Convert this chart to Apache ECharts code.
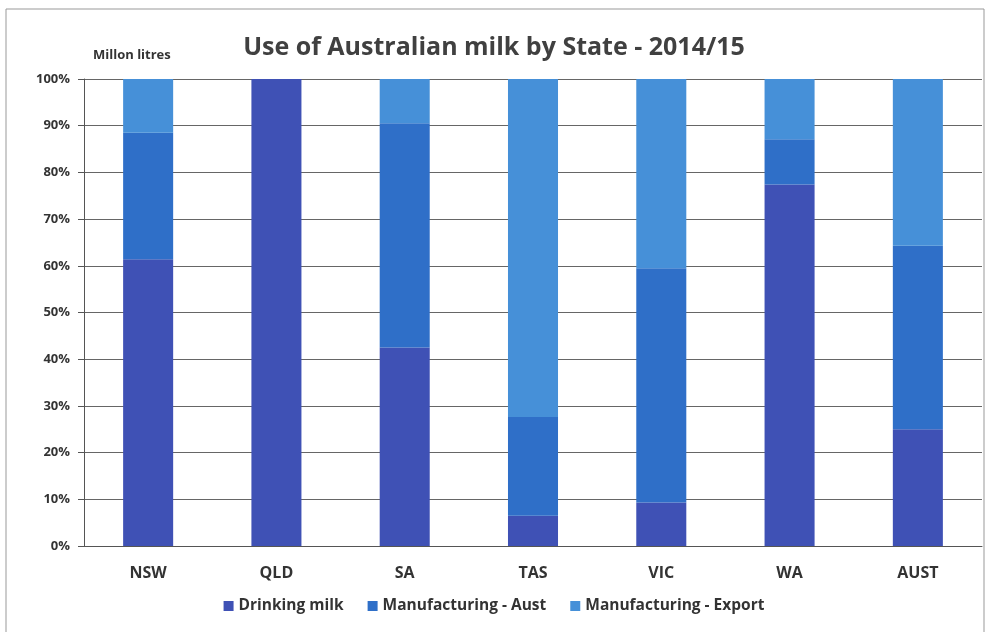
<!DOCTYPE html>
<html><head><meta charset="utf-8">
<script src="https://cdn.jsdelivr.net/npm/echarts@6/dist/echarts.min.js"></script>
<style>html,body{margin:0;padding:0;background:#fff}#c{width:988px;height:632px}</style>
</head><body><div id="c"></div>
<script>
const categories = ['NSW','QLD','SA','TAS','VIC','WA','AUST'];
const drinkingMilk = [61.4, 100, 42.5, 6.5, 9.3, 77.4, 25.0];
const manufacturingAust = [27.1, 0, 48.0, 21.1, 50.2, 9.7, 39.3];
const manufacturingExport = [11.5, 0, 9.5, 72.4, 40.5, 12.9, 35.7];
const seriesNames = ['Drinking milk','Manufacturing - Aust','Manufacturing - Export'];
const colors = ['#3f51b5','#2f6fc8','#4690d8'];
const font = '"Open Sans", "Liberation Sans", sans-serif';

const chart = echarts.init(document.getElementById('c'));
const data = [drinkingMilk, manufacturingAust, manufacturingExport];
chart.setOption({
  animation: false,
  textStyle: {fontFamily: font},
  title: {
    text: 'Use of Australian milk by State - 2014/15',
    left: 'center', top: 30,
    textStyle: {fontFamily: font, fontSize: 25, fontWeight: 'bold', color: '#404040'}
  },
  graphic: [
    {type: 'rect', shape: {x: 6, y: 9, width: 978, height: 640}, style: {fill: 'none', stroke: '#999', lineWidth: 1}},
    {type: 'text', left: 93, top: 49, style: {text: 'Millon litres', font: 'bold 13px ' + font, fill: '#333'}}
  ],
  legend: {
    bottom: 13, left: 'center', itemWidth: 10, itemHeight: 10, itemGap: 24, icon: 'rect',
    textStyle: {fontFamily: font, fontSize: 15.5, fontWeight: 'bold', color: '#333'},
    data: seriesNames
  },
  grid: {left: 84, right: 6, top: 79, bottom: 86},
  xAxis: {
    type: 'category', data: categories,
    axisLine: {lineStyle: {color: '#555'}},
    axisTick: {show: false},
    axisLabel: {fontFamily: font, fontSize: 16, fontWeight: 'bold', color: '#333', margin: 19}
  },
  yAxis: {
    type: 'value', min: 0, max: 100, interval: 10,
    axisLine: {show: true, lineStyle: {color: '#555'}},
    axisTick: {show: true, length: 6, lineStyle: {color: '#555'}},
    splitLine: {lineStyle: {color: '#666', width: 1}},
    axisLabel: {fontFamily: font, fontSize: 13, fontWeight: 'bold', color: '#333', margin: 14, formatter: '{value}%'}
  },
  series: seriesNames.map((n, i) => ({
    name: n, type: 'bar', stack: 'total', barWidth: '39%',
    itemStyle: {color: colors[i]},
    data: data[i]
  }))
});
</script></body></html>
